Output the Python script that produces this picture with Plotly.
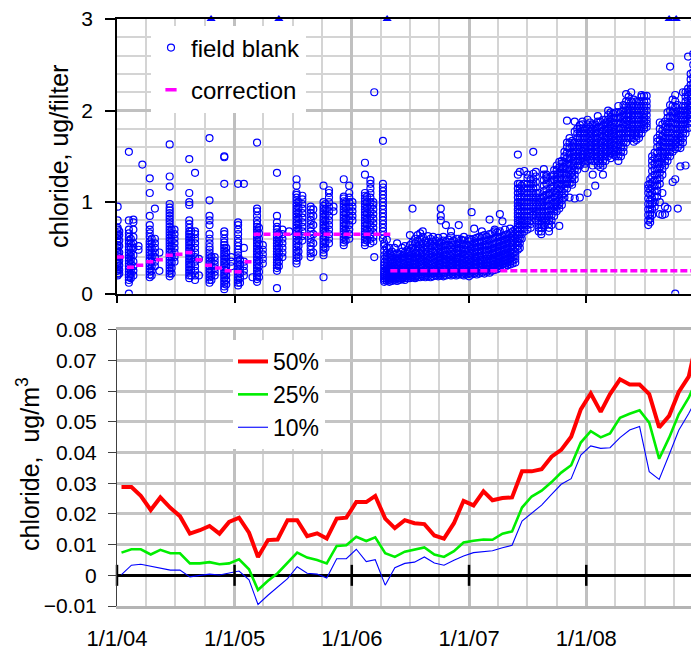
import plotly.graph_objects as go
import pandas as pd

# ---------------- data ----------------
# field blank measurements: sampling date -> values in hundredths of ug/filter
FB_DATES = [
    "2004-01-03", "2004-01-08", "2004-02-07", "2004-02-13", "2004-02-21", "2004-03-08", "2004-03-20",
    "2004-04-12", "2004-04-18", "2004-04-28", "2004-05-12", "2004-06-13", "2004-06-19", "2004-06-28",
    "2004-08-13", "2004-08-19", "2004-08-31", "2004-09-12", "2004-10-15", "2004-10-21", "2004-10-31",
    "2004-11-30", "2004-12-06", "2004-12-22", "2005-01-12", "2005-01-18", "2005-01-30", "2005-02-26",
    "2005-03-12", "2005-03-18", "2005-03-30", "2005-05-13", "2005-05-19", "2005-05-30", "2005-06-20",
    "2005-07-13", "2005-07-19", "2005-07-31", "2005-08-26", "2005-09-03", "2005-10-05", "2005-10-11",
    "2005-10-22", "2005-11-05", "2005-12-07", "2005-12-13", "2005-12-24", "2006-01-03", "2006-02-11",
    "2006-02-17", "2006-02-28", "2006-03-09", "2006-03-12", "2006-04-08",
    "2006-04-12", "2006-04-20", "2006-04-28", "2006-05-06", "2006-05-14", "2006-05-22", "2006-05-30",
    "2006-06-07", "2006-06-15", "2006-06-23", "2006-07-01", "2006-07-09", "2006-07-17", "2006-07-25",
    "2006-08-02", "2006-08-10", "2006-08-18", "2006-08-26", "2006-09-03", "2006-09-11", "2006-09-19",
    "2006-09-27", "2006-10-05", "2006-10-13", "2006-10-21", "2006-10-29", "2006-11-06", "2006-11-14",
    "2006-11-22", "2006-11-30", "2006-12-08", "2006-12-16", "2006-12-24", "2007-01-01", "2007-01-09",
    "2007-01-17", "2007-01-25", "2007-02-02", "2007-02-10", "2007-02-18", "2007-02-26", "2007-03-06",
    "2007-03-14", "2007-03-22", "2007-03-30", "2007-04-07", "2007-04-15", "2007-04-23", "2007-05-01",
    "2007-05-09", "2007-05-17", "2007-05-25",
    "2007-06-02", "2007-06-08", "2007-06-14", "2007-06-22", "2007-07-02", "2007-07-12", "2007-07-20",
    "2007-07-28", "2007-08-06", "2007-08-14", "2007-08-22", "2007-08-30", "2007-09-07", "2007-09-15",
    "2007-09-23", "2007-10-01", "2007-10-09", "2007-10-17", "2007-10-25", "2007-11-02", "2007-11-10",
    "2007-11-18", "2007-11-26", "2007-12-04", "2007-12-12", "2007-12-20", "2007-12-28", "2008-01-05",
    "2008-01-13", "2008-01-21", "2008-01-29", "2008-02-06", "2008-02-14", "2008-02-22", "2008-03-01",
    "2008-03-09", "2008-03-17", "2008-03-25", "2008-04-02", "2008-04-10", "2008-04-18", "2008-04-26",
    "2008-05-04", "2008-05-12", "2008-05-20", "2008-05-28", "2008-06-05", "2008-06-13", "2008-06-21",
    "2008-06-29", "2008-07-07",
    "2008-07-12", "2008-07-18", "2008-07-24", "2008-08-01", "2008-08-09", "2008-08-17", "2008-08-25",
    "2008-09-02", "2008-09-10", "2008-09-18", "2008-09-26", "2008-10-04", "2008-10-12", "2008-10-20",
    "2008-10-28", "2008-11-05", "2008-11-13", "2008-11-21", "2008-11-29", "2008-12-07", "2008-12-14",
]
FB_VALUES = [
    "20 22 25 27 30 33 35 38 41 44 47 50 53 56 60 63 66 70 72 80 95",
    "22 26 31 36 40 45 52 58 64 68",
    "0 12 15 18 21 24 27 30 33 36 39 42 45 48 51 55 58 62 66 70 80 155",
    "17 21 25 29 33 37 41 45 50 55 60",
    "20 25 30 35 42 50 55 62 70 78 81",
    "48 52",
    "141",
    "18 21 24 27 30 33 36 39 42 45 48 51 54 57 62 66 70 75 85 110 126",
    "20 25 30 35 40 45 50 55 60",
    "30 35 40 45 50 55 60 93",
    "25 45",
    "19 22 25 28 31 34 37 40 43 46 49 52 55 58 61 64 67 70 73 76 79 82 85 88 91 94 98 117 128 163",
    "22 28 34 40 46 52 58 64 70",
    "35 40 45 50 55 60 65 70",
    "17 20 23 26 29 32 35 38 41 44 47 50 53 56 59 62 65 68 72 76 80 97 100 110 147",
    "20 26 32 38 44 50 56 62 68",
    "15 20 25 30 35 40 45 50 55 60 65 68 132",
    "20 38",
    "12 15 18 21 24 27 30 33 36 39 42 45 48 51 55 60 65 75 80 85 102 170",
    "15 20 25 30 35 40",
    "20 24 28 32 36 40",
    "5 8 11 14 17 20 23 26 29 32 35 38 41 44 47 50 53 56 60 65 68 120 149 150",
    "10 15 20 25 30 35 40 45 50",
    "30 35 40",
    "9 12 15 18 21 24 27 30 33 36 39 42 45 48 52 56 60 65 70 75 78 120",
    "12 17 22 27 32 37",
    "20 25 30 35 50 120",
    "18",
    "13 16 19 22 25 28 31 34 37 40 43 46 49 52 55 58 61 64 67 70 73 76 80 85 90 93 165",
    "18 24 30 36 42 48 54 60 66 72",
    "33 38 43 48 53",
    "6 25 28 31 34 37 40 43 46 49 52 55 58 61 64 67 70 73 78 85 132",
    "30 35 40 45 50 55 60 65",
    "40 45 50 55 60 65 70",
    "68",
    "33 36 39 42 45 48 51 54 57 60 63 66 69 72 75 78 81 84 87 90 93 96 99 102 105 108 110 118 125",
    "40 46 52 58 64 70 76 82 88 94 100",
    "58 63 68 73 78 83 88 93 98 103 107",
    "40 44 48 52 56 60 64 68 72 76 80 84 88 92 95",
    "45 55 65 75 85 92",
    "18 42 45 48 51 54 57 60 63 66 69 72 75 78 81 84 87 90 93 96 100 118",
    "50 56 62 68 74 80 86 92 98",
    "55 60 65 70 75 80 85 90 95 100 105 110 113",
    "90 95",
    "53 56 59 62 65 68 71 74 77 80 83 86 89 92 95 98 101 104 106 125",
    "58 64 70 76 82 88 94 100",
    "60 65 70 75 80 85 90 95 100 105 110 118",
    "80 85 90 95 100",
    "53 56 59 62 65 68 71 74 77 80 83 86 89 92 95 98 101 104 107 110 130 143",
    "58 64 70 76 82 88 94 100 106",
    "55 60 65 70 75 80 85 90 95 100 105 110 115 120 124",
    "57 62 67 72 77 82 87 92 97 100",
    "40 220",
    "60 64 68 72 76 80 84 88 92 96 100 104 108 112 116 120 167",
    "13 15 17 19 21 23 25 28 31 34 38 42 47 52 55",
    "14 16 18 20 22 24 27 30 33 37 41 45 50 59",
    "13 15 17 19 22 25 28 31 35 40 44 50",
    "14 16 18 20 23 26 29 33 37 41 46",
    "15 17 19 21 24 27 30 34 38 43 50",
    "14 16 18 21 24 27 31 35 39 44 55",
    "15 17 20 23 26 30 34 38 43",
    "16 18 20 23 26 29 33 37 41 46 50",
    "15 17 19 22 25 28 32 36 40 45 52",
    "17 19 22 25 28 31 35 39 44 48",
    "17 19 21 24 27 30 34 38 42 47 53 64",
    "18 20 23 26 29 32 36 40 45 50 56 93",
    "17 19 22 25 28 32 36 40 44 49 55 60",
    "18 20 23 26 30 34 38 42 47 52 58 64",
    "18 21 24 27 31 35 39 44 49 54 60 66",
    "19 21 24 28 32 36 40 45 50 55 62 68",
    "18 20 23 27 31 35 39 43 48 53 58",
    "19 22 25 29 33 37 41 46 51 56 63",
    "18 21 24 28 32 36 40 45 50 55 60",
    "19 22 25 29 33 37 41 46 52 57 62",
    "20 23 26 30 34 38 42 47 52 58",
    "19 22 25 28 32 36 40 45 50 55 61",
    "20 22 25 29 33 37 41 46 51 56 80 85 93",
    "19 22 26 30 34 38 42 47 52 58 62",
    "20 23 26 30 34 38 43 48 53 57 75",
    "21 24 27 31 35 39 43 48 53 59",
    "20 23 26 29 33 37 41 46 51 56 63 68",
    "21 24 27 31 35 39 43 48 53 58",
    "20 23 27 31 35 39 44 49 54 60",
    "21 24 27 31 35 40 45 50 55 60 75",
    "21 24 28 32 36 40 44 49 54 59",
    "20 23 26 30 34 38 43 48 53 58 62",
    "21 24 27 31 35 39 43 48 53",
    "19 22 25 29 33 37 42 47 52 57 60",
    "21 24 27 31 35 39 44 49 54 59 89",
    "22 25 28 32 36 40 45 50 55 60 71",
    "21 24 28 32 36 41 46 51 56 61",
    "22 25 29 33 37 41 46 51 56 62",
    "23 26 29 33 37 42 47 52 57 63 68",
    "22 25 29 33 38 43 48 53 58 64",
    "24 27 30 34 38 42 47 52 57 62",
    "23 26 30 34 38 43 48 53 59 65 81",
    "25 28 31 35 39 44 49 54 60 66",
    "26 29 32 36 40 45 50 55 61 68 70",
    "27 30 33 37 41 46 51 56 62 67",
    "28 31 34 38 42 47 52 57 62 68 87",
    "29 32 35 39 43 48 53 58 63 79",
    "30 33 36 40 44 49 54 59 64 70",
    "31 34 37 41 45 50 55 60 65",
    "32 35 38 42 46 51 56 61 66 71",
    "33 36 40 44 48 53 58 63 68",
    "34 38 42 46 50 55 60 65 70",
    "48 52 56 60 64 68 72 76 80 84 88 92 96 100 105 110 115 120 130 152",
    "50 55 60 65 70 75 80 85 90 95 100 105 110 115 120 133",
    "60 65 70 75 80 85 90 95 100 106 112 118",
    "68 72 76 80 85 90 95 100 105 110 115 120 134",
    "70 75 80 85 90 95 100 105 110 115 120 126 130",
    "72 76 80 85 90 95 100 105 110 115 120 125",
    "86 90 95 100 105 110 115 120 125 131 155",
    "80 85 90 95 100 105 110 116 122 128 133",
    "68 72 76 80 85 90 95 100 105 110",
    "65 68 72 76 80 85 90 95 100 104",
    "75 80 85 90 95 100 106 112 118 124 130 136",
    "80 85 90 96 102 108 114 120 126 130 128",
    "68 72 76 80 85 90 96 102 108 110",
    "75 80 86 92 98 104 110 116 122 128",
    "85 90 95 100 106 112 118 124 130 135 125",
    "90 95 100 105 110 115 120 125 130 135 140",
    "93 98 103 108 114 120 126 132 138 144 74",
    "97 102 107 112 118 124 130 136 142 145",
    "105 110 115 120 126 132 138 144 150 155",
    "115 120 125 130 136 142 148 154 160 165 189",
    "120 125 130 135 141 147 153 159 165 170 105",
    "122 127 132 137 143 149 155 161 167 119",
    "125 130 135 140 145 150 155 160 165 177 188 104",
    "135 140 145 150 155 160 165 170 175 180",
    "140 145 150 155 160 165 170 175 180 184 105",
    "144 148 152 156 160 165 170 175 180 185 188",
    "142 146 150 155 160 165 170 175 180 137",
    "145 150 155 160 165 170 175 180 185 190 110",
    "146 150 154 158 162 167 172 177 182 187",
    "140 145 150 155 160 165 170 175 180 185 130",
    "145 150 155 160 165 170 175 180 185 118",
    "140 145 150 155 160 165 170 176 182 188 194",
    "142 147 152 157 162 167 172 177 182 188 138",
    "140 145 150 155 160 166 172 178 184 190 130",
    "145 150 155 160 165 170 175 180 186 190",
    "150 155 160 165 170 175 180 185 190 195 200",
    "148 153 158 163 168 173 178 183 188 193 198",
    "152 157 162 167 172 177 182 187 192 197",
    "150 155 160 165 170 175 180 186 192 198 155",
    "145 150 156 162 168 174 180 186 192 198 205",
    "150 155 160 165 170 175 181 187 193 199",
    "155 160 165 170 175 180 185 190 195 200 206",
    "165 170 175 180 185 190 195 200 205 210 218",
    "177 181 185 189 193 197 201 205 210 215 170",
    "170 175 180 185 190 195 200 205 210 220",
    "166 170 175 180 185 190 195 200 205 212",
    "168 172 176 180 185 190 195 200 205 210",
    "170 175 180 185 190 195 200 205 210 175",
    "175 180 185 190 195 200 205 210 215 217",
    "180 184 188 192 196 200 205 210 216",
    "182 186 190 195 200 205 210 216",
    "75 80 86 92 98 104 110 115 119",
    "78 82 87 92 97 102 108 114 120 125",
    "86 92 98 104 110 116 122 128 134 140 145 150",
    "95 100 106 112 118 124 130 136 142 148 154",
    "106 112 118 124 130 136 142 148 154 160 166 170",
    "87 100 120 126 132 138 144 150 156 162 168 174 180 187",
    "86 110 130 136 142 148 154 160 166 172 178 185",
    "87 95 140 145 150 155 160 165 170 176 182 188",
    "93 145 150 155 160 165 170 175 180 186 192 198",
    "150 155 160 165 170 176 182 188 194 200 206 248",
    "122 155 160 165 170 175 180 186 192 198 205 212",
    "0 125 158 163 168 174 180 186 192 198 204 210 217",
    "93 160 165 170 175 180 185 190 195 200 206",
    "159 163 167 171 175 180 185 190 195 199 139",
    "165 170 175 180 185 190 195 200 205 220",
    "175 180 185 190 195 200 205 210 215 220 140",
    "181 186 191 196 201 206 211 216 220 224 259",
    "188 193 198 203 208 213 218 223 228 234 240",
    "195 200 205 210 215 220 225 230 236 242 250 262",
    "190 198 205 212 218 224 230 236 242 248",
    "200 206 212 218 224 230 236 242 246 250",
]

# samples above the 3 ug/filter axis limit (shown at the top of the axis)
OVER_DATES = ["2004-10-20", "2005-05-19", "2006-04-21", "2008-09-15", "2008-10-07", "2008-12-05"]
Y_TOP = 3

X_START, X_END = "2004-01-01", "2008-12-17"

# blank correction (ug/filter), piecewise constant from each start date
CORR_DATES = ["2004-01-01", "2004-02-01", "2004-03-01", "2004-04-01", "2004-05-01", "2004-06-01",
              "2004-07-01", "2004-08-01", "2004-09-01", "2004-10-01", "2004-11-01", "2004-12-01",
              "2005-01-01", "2005-02-01", "2005-03-01", "2006-05-01", X_END]
CORR_VALUES = [0.40, 0.29, 0.31, 0.35, 0.37, 0.42, 0.43, 0.45, 0.37, 0.31, 0.28, 0.25,
               0.24, 0.35, 0.65, 0.25]

# monthly percentiles of corrected chloride, ug/m3
MONTHS = pd.date_range("2004-01-01", periods=60, freq="MS") + pd.Timedelta(days=14)
P50 = [0.0288, 0.0288, 0.0259, 0.0213, 0.0254, 0.0220, 0.0193, 0.0136, 0.0147, 0.0161, 0.0136, 0.0174,
       0.0188, 0.0139, 0.0060, 0.0115, 0.0117, 0.0180, 0.0180, 0.0128, 0.0137, 0.0120, 0.0185, 0.0188,
       0.0239, 0.0239, 0.0259, 0.0185, 0.0154, 0.0180, 0.0170, 0.0167, 0.0130, 0.0120, 0.0170, 0.0243,
       0.0228, 0.0274, 0.0245, 0.0252, 0.0254, 0.0339, 0.0339, 0.0346, 0.0387, 0.0409, 0.0452, 0.0541,
       0.0593, 0.0533, 0.0591, 0.0639, 0.0622, 0.0622, 0.0591, 0.0482, 0.0520, 0.0598, 0.0648, 0.0789]
P25 = [0.0074, 0.0085, 0.0085, 0.0068, 0.0083, 0.0072, 0.0072, 0.0039, 0.0039, 0.0043, 0.0036, 0.0039,
       0.0052, 0.0020, -0.0048, -0.0018, 0.0007, 0.0041, 0.0074, 0.0058, 0.0050, 0.0039, 0.0096, 0.0098,
       0.0126, 0.0112, 0.0124, 0.0072, 0.0060, 0.0077, 0.0085, 0.0091, 0.0068, 0.0060, 0.0079, 0.0107,
       0.0113, 0.0117, 0.0116, 0.0136, 0.0143, 0.0221, 0.0257, 0.0276, 0.0304, 0.0335, 0.0359, 0.0433,
       0.0470, 0.0450, 0.0463, 0.0514, 0.0527, 0.0538, 0.0498, 0.0380, 0.0449, 0.0525, 0.0579, 0.0650]
P10 = [0.0002, 0.0033, 0.0036, 0.0030, 0.0025, 0.0017, 0.0017, -0.0005, 0.0000, 0.0004, 0.0001, 0.0007,
       0.0014, -0.0015, -0.0095, -0.0065, -0.0037, -0.0011, 0.0028, 0.0007, 0.0004, -0.0009, 0.0054, 0.0054,
       0.0085, 0.0045, 0.0051, -0.0032, 0.0025, 0.0039, 0.0043, 0.0060, 0.0040, 0.0033, 0.0049, 0.0063,
       0.0074, 0.0077, 0.0080, 0.0090, 0.0098, 0.0177, 0.0204, 0.0229, 0.0264, 0.0297, 0.0315, 0.0392,
       0.0422, 0.0414, 0.0416, 0.0449, 0.0474, 0.0485, 0.0338, 0.0313, 0.0393, 0.0473, 0.0528, 0.0588]

# yearly tick positions on the zero line of the lower panel
YEAR_TICKS = pd.date_range("2004-01-01", "2008-12-31", freq="YS")

# ---------------- build ----------------
fb_x, fb_y = [], []
for d, vals in zip(FB_DATES, FB_VALUES):
    for v in vals.split():
        fb_x.append(d)
        fb_y.append(int(v) / 100.0)

cx, cy = [], []
for i, v in enumerate(CORR_VALUES):
    cx += [CORR_DATES[i], CORR_DATES[i + 1], None]
    cy += [v, v, None]

FONT = "Liberation Sans, Arial, sans-serif"
BLUE = "#0000ff"
MAG = "#ff00ff"
GRID_MAJ = "#c0c0c0"
GRID_MIN = "#d4d4d4"

# the page shows the figure offset by the 8px body margin; the figure is sized so that it
# ends exactly at the window edge (no scrollbars). Positions below are in window pixels.
PLOT_W = 582.0
PLOT_H = 587.0


def px(vx):
    return (vx - 117) / PLOT_W


def py(vy):
    return (606 - vy) / PLOT_H


fig = go.Figure()

fig.add_trace(go.Scatter(
    x=fb_x, y=fb_y, mode="markers", name="field blank", legend="legend", legendgroup="fb",
    marker=dict(symbol="circle-open", size=7, color=BLUE, line=dict(width=1.2, color=BLUE)),
    xaxis="x", yaxis="y", hoverinfo="skip"))
fig.add_trace(go.Scatter(
    x=OVER_DATES, y=[Y_TOP] * len(OVER_DATES), mode="markers", showlegend=False,
    marker=dict(symbol="triangle-up", size=8, color=BLUE), cliponaxis=False,
    xaxis="x", yaxis="y", hoverinfo="skip"))
fig.add_trace(go.Scatter(
    x=cx, y=cy, mode="lines", showlegend=False,
    line=dict(color=MAG, width=3.5, dash="7px,3px"),
    xaxis="x", yaxis="y", hoverinfo="skip"))
fig.add_trace(go.Scatter(
    x=[None], y=[None], mode="markers", name="correction", legend="legend", legendgroup="corr",
    marker=dict(symbol="line-ew", size=8, color=MAG, line=dict(width=3.5, color=MAG)),
    xaxis="x", yaxis="y"))

fig.add_trace(go.Scatter(
    x=MONTHS, y=P50, mode="lines", name="50%", legend="legend3",
    line=dict(color="#ff0000", width=4), xaxis="x2", yaxis="y2", hoverinfo="skip"))
fig.add_trace(go.Scatter(
    x=MONTHS, y=P25, mode="lines", name="25%", legend="legend3",
    line=dict(color="#00ee00", width=2.6), xaxis="x2", yaxis="y2", hoverinfo="skip"))
fig.add_trace(go.Scatter(
    x=MONTHS, y=P10, mode="lines", name="10%", legend="legend3",
    line=dict(color="#0000ff", width=1.1), xaxis="x2", yaxis="y2", hoverinfo="skip"))
fig.add_trace(go.Scatter(
    x=YEAR_TICKS, y=[0] * len(YEAR_TICKS), mode="markers", showlegend=False, cliponaxis=False,
    marker=dict(symbol="line-ns", size=15, color="black", line=dict(width=2.5, color="black")),
    xaxis="x2", yaxis="y2", hoverinfo="skip"))

TOP_DOM = [0.532, 1.0]
BOT_DOM = [0.0, 0.4702]

xgrid = dict(
    type="date", range=[X_START, X_END], dtick="M12", tick0="2004-01-01", automargin=False,
    showgrid=True, gridcolor=GRID_MAJ, gridwidth=3, zeroline=False,
    minor=dict(dtick="M3", tick0="2004-01-01", showgrid=True, gridcolor=GRID_MIN, gridwidth=2),
)

fig.update_layout(
    template="none",
    width=691, height=642,
    margin=dict(l=109, r=0, t=11, b=44, autoexpand=False),
    paper_bgcolor="white", plot_bgcolor="white",
    font=dict(family=FONT, color="black", size=21),
    xaxis=dict(**xgrid, anchor="y", showline=True, linecolor="black", linewidth=1.5, mirror=True,
               ticks="outside", ticklen=8, tickwidth=1.5, tickcolor="black", showticklabels=False),
    yaxis=dict(domain=TOP_DOM, range=[0, 3], dtick=1, tick0=0, showgrid=True, gridcolor=GRID_MAJ,
               gridwidth=3, zeroline=False, showline=True, linecolor="black", linewidth=1.5,
               automargin=False, ticklabeloverflow="allow",
               ticks="outside", ticklen=10, tickwidth=1.5, tickcolor="black",
               tickfont=dict(size=21), ticklabelstandoff=8,
               minor=dict(dtick=0.2, tick0=0, showgrid=True, gridcolor=GRID_MIN, gridwidth=2)),
    xaxis2=dict(**xgrid, anchor="y2", showline=True, linecolor="#b4b4b4", linewidth=2.5, mirror=True,
                ticks="", showticklabels=True, tickformat="%-m/%-d/%y", tickfont=dict(size=22),
                ticklabelstandoff=11, ticklabeloverflow="allow"),
    yaxis2=dict(domain=BOT_DOM, range=[-0.01, 0.08], dtick=0.01, tick0=0, automargin=False,
                ticklabeloverflow="allow",
                showgrid=True, gridcolor="#c4c4c4", gridwidth=2.5,
                zeroline=True, zerolinecolor="black", zerolinewidth=2.5,
                showline=True, linecolor="#404040", linewidth=1,
                ticks="outside", ticklen=8, tickwidth=1, tickcolor="#404040",
                tickfont=dict(size=21), ticklabelstandoff=7),
    legend=dict(x=px(151), xanchor="left", y=py(25.5), yanchor="top", tracegroupgap=8,
                bgcolor="white", font=dict(size=24), borderwidth=0),
    legend3=dict(x=px(233), xanchor="left", y=py(340), yanchor="top",
                 bgcolor="white", font=dict(size=23), borderwidth=0),
    annotations=[
        dict(text="chloride, ug/filter", xref="paper", yref="paper", x=px(59),
             y=py(156), xanchor="center", yanchor="middle", textangle=-90,
             showarrow=False, font=dict(size=25)),
        dict(text="chloride,\u00a0 ug/m<sup>3</sup>", xref="paper", yref="paper", x=px(28),
             y=py(464), xanchor="center", yanchor="middle", textangle=-90,
             showarrow=False, font=dict(size=25)),
    ],
    showlegend=True,
)

fig.write_html("out.html")
